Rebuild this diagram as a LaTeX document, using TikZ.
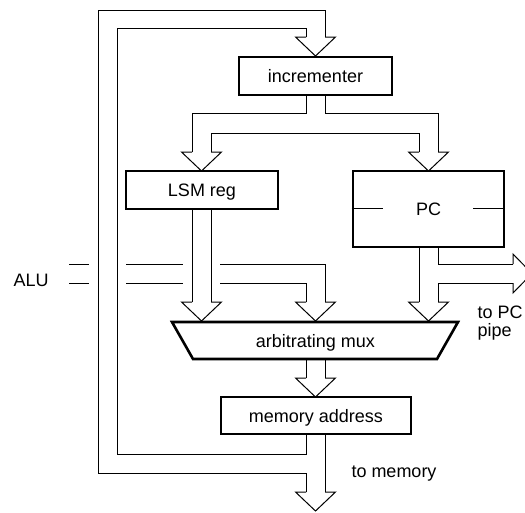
\documentclass[tikz,border=0pt]{standalone}
\usepackage{fontspec}
\setmainfont{Liberation Sans}
\begin{document}
\begin{tikzpicture}[x=1pt,y=-1pt,line width=1pt,
  lbl/.style={font=\fontsize{18}{18}\selectfont,inner sep=0pt},
  regbox/.style={draw,line width=2.6pt,inner sep=0pt,text height=13pt,text depth=0pt,font=\fontsize{18}{18}\selectfont},
  dhead/.pic={\draw[line width=1pt] (-9.5,0) -- (-20,0) -- (0,19) -- (20,0) -- (9.5,0);},
  rhead/.pic={\draw[line width=1pt] (0,-9.5) -- (0,-19.5) -- (19,0) -- (0,19.5) -- (0,9.5);}]
\useasboundingbox (0,0) rectangle (525,512);
\clip (0,0) rectangle (525,512);

% boxes
\node[regbox,minimum width=153pt,minimum height=38pt] (inc) at (315.5,76) {incrementer};
\node[regbox,minimum width=152pt,minimum height=38pt] (lsm) at (202,190) {LSM reg};
\node[regbox,minimum width=151pt,minimum height=76pt] (pc) at (428.5,209) {PC};
\node[regbox,minimum width=190pt,minimum height=37pt] (mem) at (316,415.5) {memory address};
\draw[line width=2.6pt] (172,322) -- (458,322) -- (437,359) -- (193,359) -- cycle;
\node[lbl,anchor=base] (mux) at (315.5,347) {arbitrating mux};

% PC ticks
\draw (pc.west |- 0,208) -- (383,208);
\draw (473,208) -- (pc.east |- 0,208);

% feedback loops
\draw (306,492) -- (306,473) -- (98,473) -- (98,10) -- (325,10) -- (325,37);
\draw (306,37) -- (306,28) -- (117,28) -- (117,454) -- (306,454) -- (306,434);
\draw (325,434) -- (325,492);
\pic at (315.5,37) {dhead};
\pic at (315.5,492) {dhead};

% incrementer split
\draw (306,95) -- (306,113) -- (192,113) -- (192,152);
\draw (325,95) -- (325,113) -- (438,113) -- (438,152);
\draw (211,152) -- (211,133) -- (419,133) -- (419,152);
\pic at (201.5,152) {dhead};
\pic at (428.5,152) {dhead};

% LSM to mux
\draw (192,209) -- (192,302);
\draw (211,209) -- (211,302);
\pic at (201.5,302) {dhead};

% ALU to mux
\draw (69,264) -- (89,264);
\draw (69,283) -- (89,283);
\draw (126,264) -- (183,264);
\draw (126,283) -- (183,283);
\draw (220,264) -- (325,264) -- (325,302);
\draw (220,283) -- (306,283) -- (306,302);
\pic at (315.5,302) {dhead};

% PC to mux and PC pipe
\draw (419,247) -- (419,302);
\draw (438,247) -- (438,264) -- (513,264);
\draw (513,283) -- (438,283) -- (438,302);
\pic at (428.5,302) {dhead};
\pic at (513,273.5) {rhead};

% mux to memory address
\draw (306,359) -- (306,378);
\draw (325,359) -- (325,378);
\pic at (315.5,378) {dhead};

% labels
\node[lbl,anchor=base west] (alu) at (13,286) {ALU};
\node[lbl,anchor=base west] (topc) at (477,318) {to PC};
\node[lbl,anchor=base west] (pipe) at (477,336) {pipe};
\node[lbl,anchor=base west] (tomem) at (351,477) {to memory};
\end{tikzpicture}
\end{document}
